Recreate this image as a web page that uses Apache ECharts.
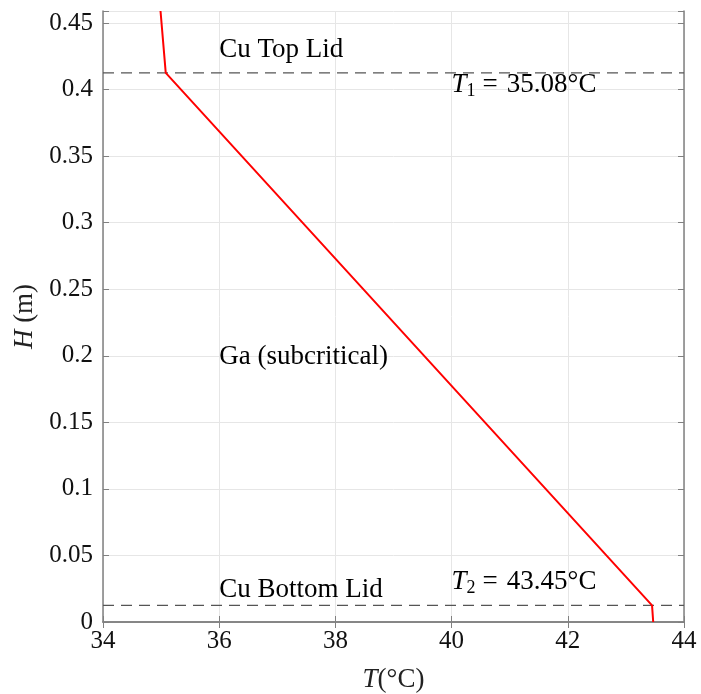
<!DOCTYPE html>
<html>
<head>
<meta charset="utf-8">
<script src="https://cdn.jsdelivr.net/npm/echarts@6/dist/echarts.min.js"></script>
<style>html,body{margin:0;padding:0;background:#fff}#c{width:701px;height:694px}</style>
</head>
<body>
<div id="c"></div>
<script>
// Temperature profile (T in °C, H in m)
const profileT = [34.99, 35.08, 43.45, 43.47];
const profileH = [0.459, 0.4125, 0.0125, 0];
// Lid interface heights
const lidH = [0.4125, 0.0125];
// Annotations
const annoText = ['Cu Top Lid', 'Ga (subcritical)', 'Cu Bottom Lid', 'T1', 'T2'];
const annoT = [36.0, 36.0, 36.0, 40.0, 40.0];
const annoH = [0.4297, 0.199, 0.024, 0.4034, 0.030];
const T1 = '35.08', T2 = '43.45';
const xTicks = [34, 36, 38, 40, 42, 44];
const yTicks = [0, 0.05, 0.1, 0.15, 0.2, 0.25, 0.3, 0.35, 0.4, 0.45];

const FF = "'Liberation Serif','Times New Roman',serif";
const chart = echarts.init(document.getElementById('c'));
const axisCol = '#808080';
const txtCol = '#111';
const xMin = xTicks[0], xMax = xTicks[xTicks.length - 1];
const anno = annoText.map((t, i) => ({value: [annoT[i], annoH[i]], name: t}));
function fmtLabel(p) {
  if (p.name === 'T1') return '{i|T}{s|1}{e|=}{n|' + T1 + '°C}';
  if (p.name === 'T2') return '{i|T}{s|2}{e|=}{n|' + T2 + '°C}';
  return '{n|' + p.name + '}';
}
const lidSeries = lidH.map(h => ({
  type: 'line',
  data: [[xMin, h], [xMax, h]],
  showSymbol: false, silent: true,
  lineStyle: {color: '#555', type: [11, 7], width: 1.3},
  z: 3
}));
chart.setOption({
  animation: false,
  grid: {left: 103, right: 17, top: 11, bottom: 72, outerBoundsMode: 'none', containLabel: false},
  xAxis: [{
    type: 'value', min: xMin, max: xMax, interval: 2,
    position: 'bottom',
    name: '{i|T}{n|(°C)}', nameLocation: 'middle', nameGap: 44,
    nameTextStyle: {rich: {i: {fontFamily: FF, fontStyle: 'italic', fontSize: 27, color: '#222'}, n: {fontFamily: FF, fontSize: 27, color: '#222'}}},
    axisLine: {lineStyle: {color: axisCol, width: 1.5}},
    axisTick: {inside: true, length: 6, lineStyle: {color: axisCol}},
    axisLabel: {fontFamily: FF, fontSize: 25, color: txtCol, margin: 7},
    splitLine: {lineStyle: {color: '#e6e6e6'}}
  }, {
    type: 'value', min: xMin, max: xMax, interval: 2, position: 'top',
    axisLine: {lineStyle: {color: axisCol, width: 1.5}},
    axisTick: {inside: true, length: 6, lineStyle: {color: axisCol}},
    axisLabel: {show: false}, splitLine: {show: false}
  }],
  yAxis: [{
    type: 'value', min: 0, max: 0.459, interval: 0.05,
    name: '{i|H}{n| (m)}', nameLocation: 'middle', nameGap: 63, nameRotate: 90,
    nameTextStyle: {rich: {i: {fontFamily: FF, fontStyle: 'italic', fontSize: 27, color: '#222'}, n: {fontFamily: FF, fontSize: 27, color: '#222'}}},
    axisLine: {show: true, lineStyle: {color: axisCol, width: 1.5}},
    axisTick: {show: true, inside: true, length: 6, lineStyle: {color: axisCol}},
    axisLabel: {fontFamily: FF, fontSize: 25, color: txtCol, margin: 10,
      formatter: v => (Math.abs(v - 0.459) < 1e-6 ? '' : String(+v.toFixed(2)))},
    splitLine: {lineStyle: {color: '#e6e6e6'}}
  }, {
    type: 'value', min: 0, max: 0.459, interval: 0.05, position: 'right',
    axisLine: {show: true, lineStyle: {color: axisCol, width: 1.5}},
    axisTick: {show: true, inside: true, length: 6, lineStyle: {color: axisCol}},
    axisLabel: {show: false}, splitLine: {show: false}
  }],
  series: lidSeries.concat([{
    type: 'line',
    data: profileT.map((t, i) => [t, profileH[i]]),
    showSymbol: false,
    lineStyle: {color: '#ff0000', width: 2},
    z: 5
  }, {
    type: 'scatter',
    data: anno,
    symbolSize: 0.01,
    silent: true,
    itemStyle: {opacity: 1},
    label: {
      show: true, position: 'right', distance: 0,
      formatter: fmtLabel,
      color: '#000',
      rich: {
        n: {fontFamily: FF, fontSize: 27, color: '#000'},
        e: {fontFamily: FF, fontSize: 27, color: '#000', padding: [0, 9, 0, 7]},
        i: {fontFamily: FF, fontSize: 27, fontStyle: 'italic', color: '#000'},
        s: {fontFamily: FF, fontSize: 18, color: '#000', padding: [12, 0, 0, 0]}
      }
    }
  }])
});
</script>
</body>
</html>
